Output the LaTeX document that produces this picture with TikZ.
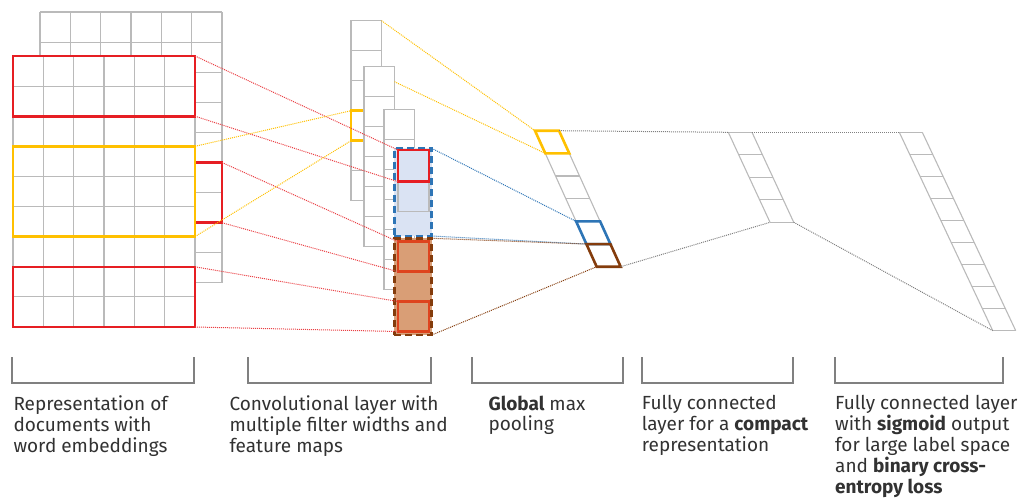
\documentclass[tikz,border=0pt]{standalone}
\usepackage{fontspec}
\setmainfont{Fira Sans}
\usepackage{xcolor}
\usepackage{tikz}
\usetikzlibrary{positioning}

\definecolor{gridgray}{RGB}{186,186,186}
\definecolor{boxred}{RGB}{230,30,35}
\definecolor{boxyellow}{RGB}{255,192,0}
\definecolor{boxblue}{RGB}{46,117,182}
\definecolor{fillblue}{RGB}{218,227,243}
\definecolor{boxbrown}{RGB}{132,60,12}
\definecolor{fillbrown}{RGB}{217,158,118}
\definecolor{cellred}{RGB}{222,68,30}
\definecolor{dotgray}{RGB}{128,128,128}
\definecolor{textgray}{RGB}{50,50,50}

\begin{document}
\begin{tikzpicture}[x=1pt, y=-1pt,
    font={\fontsize{19}{20.8}\selectfont},
    gridline/.style={draw=gridgray, line width=1.1pt},
    cell/.style={draw=gridgray, line width=1.1pt, fill=white, inner sep=0pt, outer sep=0pt, anchor=north west, minimum width=30.5pt, minimum height=30pt},
    redbox/.style={draw=boxred, line width=2.6pt, inner sep=0pt, outer sep=0pt, anchor=north west},
    yellowbox/.style={draw=boxyellow, line width=2.6pt, inner sep=0pt, outer sep=0pt, anchor=north west},
    bluebox/.style={draw=boxblue, fill=fillblue, line width=2.6pt, dash pattern=on 7pt off 4pt, inner sep=0pt, outer sep=0pt, anchor=north west},
    brownbox/.style={draw=boxbrown, fill=fillbrown, line width=2.6pt, dash pattern=on 7pt off 4pt, inner sep=0pt, outer sep=0pt, anchor=north west},
    slantbox/.style={line width=2.6pt, line join=miter},
    link/.style={line width=1pt, densely dotted},
    bracket/.style={draw=dotgray, line width=2pt},
    lbl/.style={text=textgray, align=left, anchor=north west, inner sep=0pt}
]
\useasboundingbox (0,0) rectangle (1019,499);

% word embedding matrix (back and front layer)
\foreach \c in {0,...,6} \draw[gridline] (40+30.33*\c,12) -- (40+30.33*\c,283);
\foreach \r in {0,...,9} \draw[gridline] (40,12+30.1*\r) -- (222,12+30.1*\r);
\node[redbox, minimum width=27pt, minimum height=60.2pt] (emb_back_red) at (195,162.5) {};
\fill[white] (13,56) rectangle (195,327);
\foreach \c in {0,...,6} \draw[gridline] (13+30.33*\c,56) -- (13+30.33*\c,327);
\foreach \r in {0,...,9} \draw[gridline] (13,56+30.1*\r) -- (195,56+30.1*\r);
\node[redbox, minimum width=182pt, minimum height=60.2pt] (emb_red_a) at (13,56) {};
\node[yellowbox, minimum width=182pt, minimum height=90.3pt] (emb_yellow) at (13,146.3) {};
\node[redbox, minimum width=182pt, minimum height=60.2pt] (emb_red_b) at (13,266.8) {};

% feature maps
\foreach \r in {0,...,5} \node[cell] (fm_a\r) at (351,20.7+30*\r) {};
\node[yellowbox, minimum width=30.5pt, minimum height=30pt] (fm_yellow) at (351,110.7) {};
\foreach \r in {0,...,5} \node[cell] (fm_b\r) at (364,66.7+30*\r) {};
\foreach \r in {0,...,5} \node[cell] (fm_c\r) at (384,109.3+30*\r) {};
\node[bluebox, minimum width=37.4pt, minimum height=87.7pt] (fm_blue) at (394.3,148.3) {};
\node[brownbox, minimum width=37.4pt, minimum height=96.7pt] (fm_brown) at (394.3,238.3) {};
\node[cell, fill=none, minimum width=31pt] (fm_d1) at (398,181.7) {};
\node[redbox, minimum width=31pt, minimum height=31.7pt] (fm_red) at (398,150) {};
\node[redbox, draw=cellred, minimum width=31pt, minimum height=30pt] (fm_red_b) at (398,241.7) {};
\node[redbox, draw=cellred, minimum width=31pt, minimum height=30pt] (fm_red_c) at (398,301.5) {};

\draw[link, boxred!85] (emb_red_a.north east) -- (fm_red.north west);
\draw[link, boxred!85] (emb_red_a.south east) -- (fm_red.south west);
\draw[link, boxred!85] (emb_back_red.north east) -- (fm_red_b.north west);
\draw[link, boxred!85] (emb_back_red.south east) -- (fm_red_b.south west);
\draw[link, boxred!85] (emb_red_b.north east) -- (fm_red_c.north west);
\draw[link, boxred!85] (emb_red_b.south east) -- (fm_red_c.south west);
\draw[link, boxyellow] (emb_yellow.north east) -- (fm_yellow.north west);
\draw[link, boxyellow] (emb_yellow.south east) -- (fm_yellow.south west);

% global max pooling
\foreach \i in {0,...,6} {
  \coordinate (pool_l\i) at (535+10.28*\i,130.7+22.67*\i);
  \coordinate (pool_r\i) at (559+10.28*\i,130.7+22.67*\i);
}
\draw[gridline] (pool_l0) -- (pool_l6) (pool_r0) -- (pool_r6);
\foreach \i in {1,...,5} \draw[gridline] (pool_l\i) -- (pool_r\i);
\draw[slantbox, boxyellow] (pool_l0) -- (pool_r0) -- (pool_r1) -- (pool_l1) -- cycle;
\draw[slantbox, boxblue] (pool_l4) -- (pool_r4) -- (pool_r5) -- (pool_l5) -- cycle;
\draw[slantbox, boxbrown] (pool_l5) -- (pool_r5) -- (pool_r6) -- (pool_l6) -- cycle;

\draw[link, boxyellow] (fm_a0.north east) -- (pool_l0);
\draw[link, boxyellow] (fm_b0.east) -- (pool_l1);
\draw[link, boxblue] (fm_blue.north east) -- (pool_l4);
\draw[link, boxblue] (fm_blue.south east) -- (pool_l5);
\draw[link, boxbrown] (fm_brown.north east) -- (pool_l5);
\draw[link, boxbrown] (fm_brown.south east) -- (pool_l6);

% fully connected layers
\foreach \i in {0,...,4} {
  \coordinate (fca_l\i) at (728.3+10.43*\i,132.3+22.5*\i);
  \coordinate (fca_r\i) at (752+10.43*\i,132.3+22.5*\i);
}
\draw[gridline] (fca_l0) -- (fca_l4) (fca_r0) -- (fca_r4);
\foreach \i in {0,...,4} \draw[gridline] (fca_l\i) -- (fca_r\i);

\foreach \i in {0,...,9} {
  \coordinate (fcb_l\i) at (899.3+10.38*\i,132.3+22.04*\i);
  \coordinate (fcb_r\i) at (922.3+10.38*\i,132.3+22.04*\i);
}
\draw[gridline] (fcb_l0) -- (fcb_l9) (fcb_r0) -- (fcb_r9);
\foreach \i in {0,...,9} \draw[gridline] (fcb_l\i) -- (fcb_r\i);

\draw[link, dotgray] (pool_r0) -- (fca_l0);
\draw[link, dotgray] (fca_r0) -- (fcb_l0);
\draw[link, dotgray] (pool_r6) -- (fca_l4);
\draw[link, dotgray] (fca_r4) -- (fcb_l9);

% brackets and captions
\draw[bracket] (11.7,357) |- (194.3,382.5) -- (194.3,357);
\draw[bracket] (248.3,357) |- (431,382.5) -- (431,357);
\draw[bracket] (471.7,357) |- (622.7,382.5) -- (622.7,357);
\draw[bracket] (641.7,357) |- (793.3,382.5) -- (793.3,357);
\draw[bracket] (835,357) |- (1003,382.5) -- (1003,357);

\node[lbl] (lbl_emb) at (13.3,395.5) {Representation of\\documents with\\word embeddings};
\node[lbl] (lbl_conv) at (229.3,395.5) {Convolutional layer with\\multiple filter widths and\\feature maps};
\node[lbl] (lbl_pool) at (488.3,395.5) {\textbf{Global} max\\pooling};
\node[lbl] (lbl_fca) at (641.7,395.5) {Fully connected\\layer for a \textbf{compact}\\representation};
\node[lbl] (lbl_fcb) at (835,395.5) {Fully connected layer\\with \textbf{sigmoid} output\\for large label space\\and \textbf{binary cross-}\\\textbf{entropy loss}};
\end{tikzpicture}
\end{document}
